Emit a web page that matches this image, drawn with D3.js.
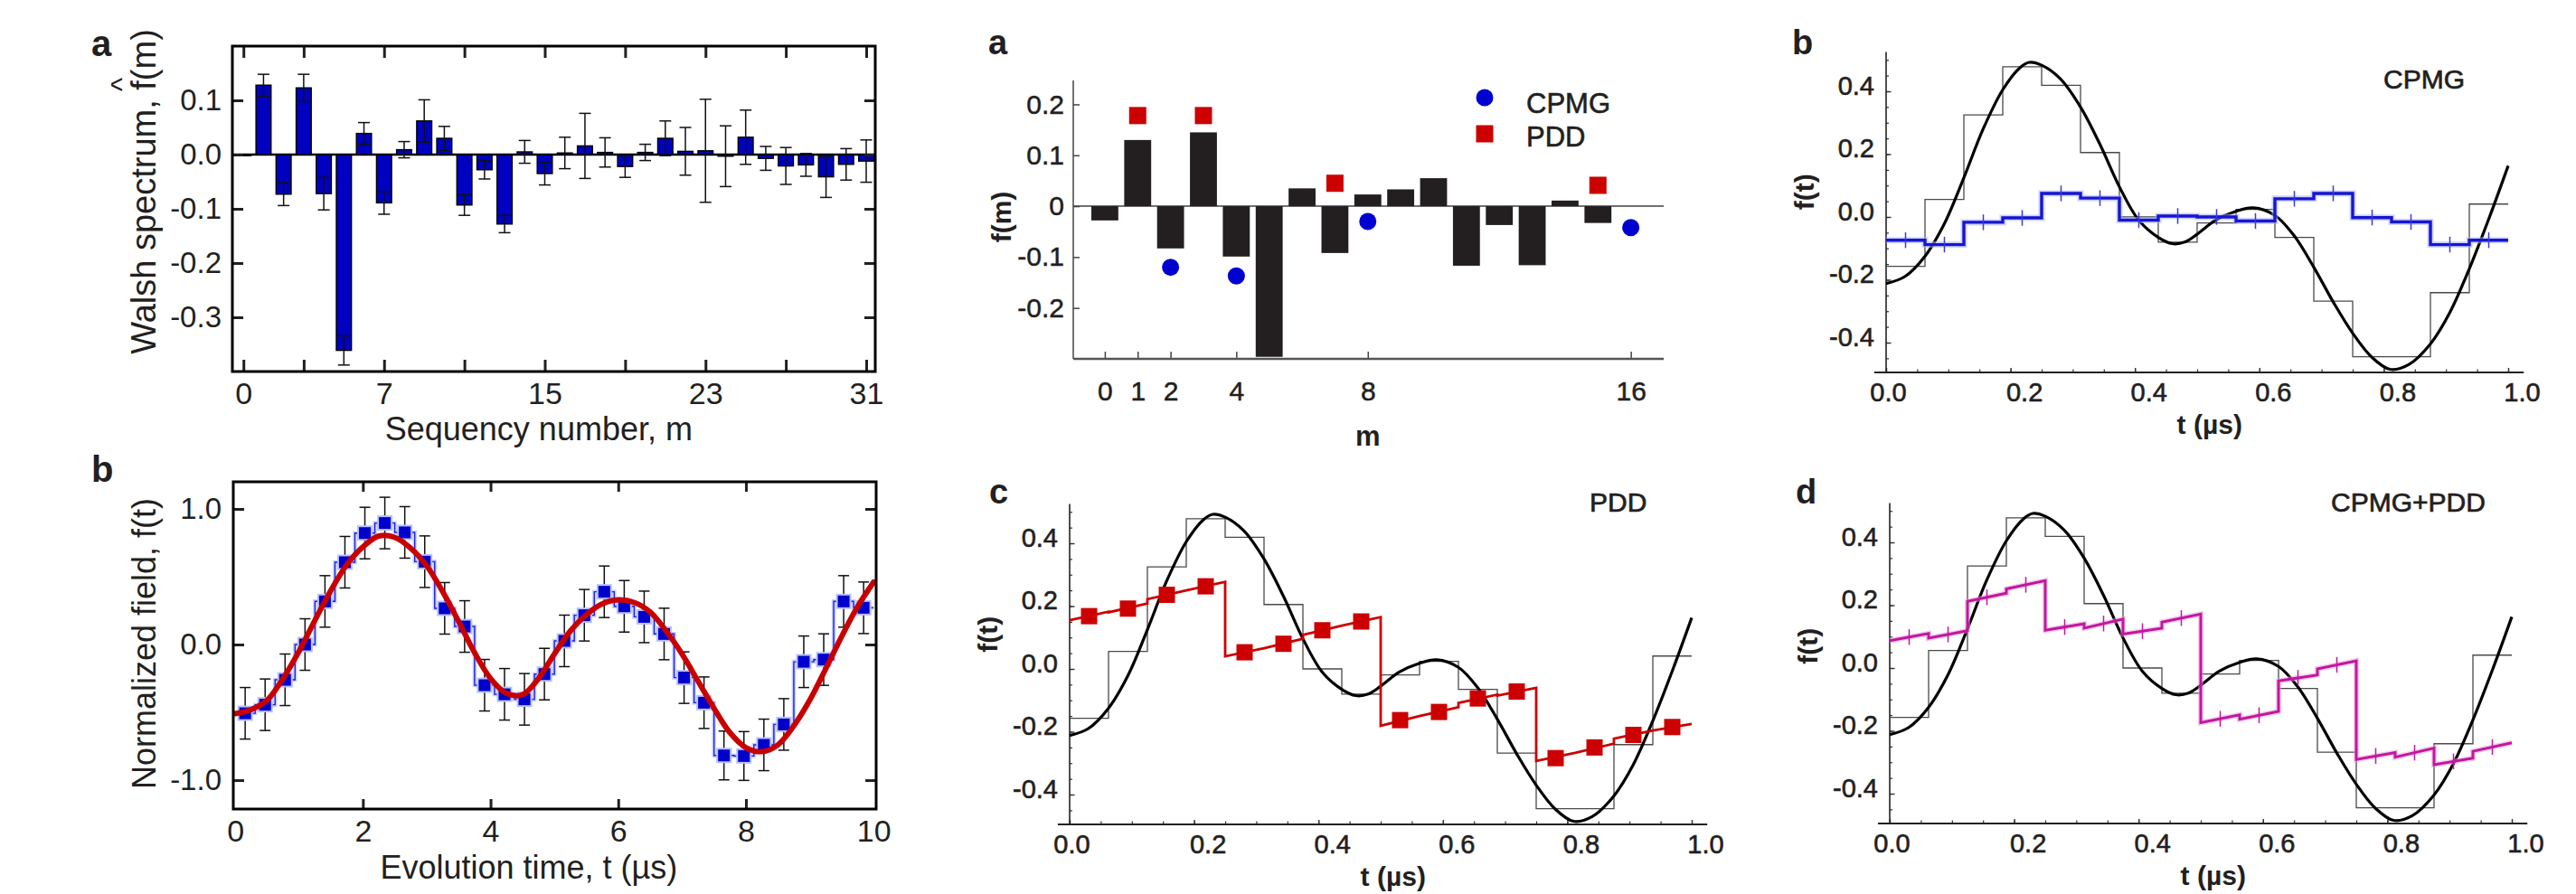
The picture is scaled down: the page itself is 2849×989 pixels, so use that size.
<!DOCTYPE html>
<html>
<head>
<meta charset="utf-8">
<script src="https://cdnjs.cloudflare.com/ajax/libs/d3/7.8.5/d3.min.js"></script>
<style>
  html, body { margin: 0; background: #fff; }
  svg { display: block; }
  text { font-family: "Liberation Sans", Arial, Helvetica, sans-serif; fill: #231f20; }
</style>
</head>
<body>
<svg id="fig" width="2849" height="989"></svg>
<script>
// ---------------- data ----------------
// Measured Walsh spectrum (sequency 0..31) with error bars
const walshM = d3.range(32);
const walshValues = [-0.002, 0.128, -0.073, 0.123, -0.072, -0.361, 0.039, -0.089, 0.009, 0.062, 0.030, -0.093,
  -0.028, -0.128, 0.005, -0.035, 0.003, 0.016, 0.004, -0.022, 0.004, 0.030, 0.006, 0.007, -0.003, 0.032,
  -0.007, -0.021, -0.019, -0.041, -0.018, -0.012];
const walshErrors = [0, 0.020, 0.021, 0.025, 0.030, 0.027, 0.020, 0.021, 0.015, 0.039, 0.022, 0.019,
  0.017, 0.016, 0.021, 0.021, 0.029, 0.060, 0.027, 0.020, 0.015, 0.032, 0.044, 0.095, 0.056, 0.050,
  0.022, 0.034, 0.021, 0.038, 0.029, 0.039];
const walshTicks = [0, 3, 7, 11, 15, 19, 23, 27, 31];
const walshTickLabels = [0, 7, 15, 23, 31];
const walshYTicks = [0.1, 0.0, -0.1, -0.2, -0.3];

// Reconstructed field: 32 samples over 10 us, with error bars, and the applied field
const fieldSpan = 10;
const fieldValues = [-0.507, -0.444, -0.260, 0.000, 0.318, 0.607, 0.822, 0.896, 0.827, 0.611, 0.267, 0.133,
  -0.300, -0.367, -0.404, -0.218, 0.027, 0.216, 0.389, 0.282, 0.204, 0.078, -0.244, -0.429,
  -0.818, -0.822, -0.740, -0.589, -0.127, -0.111, 0.318, 0.271];
const fieldErrors = [0.19, 0.19, 0.19, 0.19, 0.19, 0.19, 0.19, 0.19, 0.19, 0.19, 0.19, 0.19,
  0.19, 0.19, 0.19, 0.19, 0.19, 0.19, 0.19, 0.19, 0.19, 0.19, 0.19, 0.19,
  0.18, 0.18, 0.19, 0.19, 0.19, 0.19, 0.19, 0.19];
const appliedField = [[0, -0.51], [0.25, -0.48], [0.5, -0.41], [0.75, -0.25], [1.0, -0.05], [1.25, 0.18],
  [1.5, 0.40], [1.75, 0.59], [2.0, 0.72], [2.25, 0.80], [2.5, 0.79], [2.75, 0.71], [3.0, 0.58],
  [3.25, 0.39], [3.5, 0.17], [3.75, -0.06], [4.0, -0.25], [4.25, -0.36], [4.5, -0.37], [4.75, -0.25],
  [5.0, -0.07], [5.25, 0.10], [5.5, 0.22], [5.75, 0.30], [6.0, 0.33], [6.25, 0.31], [6.5, 0.24],
  [6.75, 0.10], [7.0, -0.07], [7.25, -0.27], [7.5, -0.47], [7.75, -0.65], [8.0, -0.76], [8.25, -0.79],
  [8.5, -0.74], [8.75, -0.60], [9.0, -0.41], [9.25, -0.18], [9.5, 0.06], [9.75, 0.28], [10, 0.46]];
const fieldXTicks = [0, 2, 4, 6, 8, 10];
const fieldYTicks = [1.0, 0.0, -1.0];

// Walsh coefficients of the test field (m = 0..15) and the ones picked by each sequence
const coefM = d3.range(16);
const coefValues = [-0.028, 0.130, -0.083, 0.145, -0.099, -0.296, 0.035, -0.092, 0.023, 0.033, 0.055,
  -0.117, -0.037, -0.116, 0.011, -0.033];
const cpmgM = [2, 4, 8, 16];
const cpmgValues = [-0.120, -0.137, -0.030, -0.042];
const pddM = [1, 3, 7, 15];
const pddValues = [0.178, 0.178, 0.045, 0.041];
const coefXTicks = [0, 1, 2, 4, 8, 16];
const coefYTicks = [0.2, 0.1, 0, -0.1, -0.2];

// Test field f(t) on 0..1 us and its 16-segment Walsh approximation
const testField = [[0, -0.212], [0.03, -0.19], [0.0625, -0.125], [0.094, -0.02], [0.125, 0.125],
  [0.156, 0.28], [0.1875, 0.405], [0.215, 0.475], [0.23, 0.492], [0.25, 0.483], [0.28, 0.44],
  [0.3125, 0.35], [0.344, 0.23], [0.375, 0.096], [0.406, -0.01], [0.4375, -0.065], [0.46, -0.085],
  [0.48, -0.08], [0.5, -0.055], [0.53, -0.01], [0.5625, 0.018], [0.59, 0.029], [0.625, 0.005],
  [0.656, -0.06], [0.6875, -0.16], [0.72, -0.275], [0.75, -0.37], [0.78, -0.445], [0.81, -0.485],
  [0.84, -0.47], [0.875, -0.404], [0.906, -0.305], [0.9375, -0.165], [0.97, 0.0], [1.0, 0.163]];
const segments = 16;
const testSteps = [-0.157, 0.056, 0.325, 0.478, 0.419, 0.205, 0.0, -0.08, -0.019, 0.024, -0.065,
  -0.268, -0.445, -0.445, -0.241, 0.041];

// CPMG reconstruction (one level per segment)
const cpmgSteps = [-0.074, -0.088, -0.017, -0.003, 0.075, 0.060, -0.010, 0.003, 0.000, -0.013, 0.058,
  0.075, -0.002, -0.016, -0.088, -0.074];
// PDD reconstruction: line vertices and the segment-centre measurements
const pddLine = [[0, 0.155], [0.0625, 0.182], [0.0625, 0.180], [0.125, 0.208], [0.125, 0.222], [0.1875, 0.250],
  [0.25, 0.277], [0.25, 0.040], [0.3125, 0.066], [0.375, 0.096], [0.375, 0.108], [0.4375, 0.138],
  [0.5, 0.165], [0.5, -0.181], [0.5625, -0.150], [0.625, -0.122], [0.625, -0.108], [0.6875, -0.082],
  [0.6875, -0.085], [0.75, -0.060], [0.75, -0.293], [0.8125, -0.267], [0.875, -0.238], [0.875, -0.222],
  [0.9375, -0.196], [1.0, -0.175]];
const pddMarks = [0.168, 0.192, 0.236, 0.263, 0.053, 0.080, 0.123, 0.151, -0.163, -0.137, -0.094,
  -0.072, -0.284, -0.250, -0.210, -0.185];
// CPMG+PDD reconstruction: line vertices
const comboLine = [[0, 0.087], [0.0625, 0.110], [0.0625, 0.095], [0.125, 0.119], [0.125, 0.212],
  [0.1875, 0.238], [0.1875, 0.252], [0.25, 0.278], [0.25, 0.120], [0.3125, 0.141], [0.3125, 0.127],
  [0.375, 0.156], [0.375, 0.108], [0.4375, 0.127], [0.4375, 0.146], [0.5, 0.172], [0.5, -0.174],
  [0.5625, -0.149], [0.5625, -0.163], [0.625, -0.138], [0.625, -0.041], [0.6875, -0.022],
  [0.6875, -0.003], [0.75, 0.023], [0.75, -0.291], [0.8125, -0.269], [0.8125, -0.284], [0.875, -0.255],
  [0.875, -0.308], [0.9375, -0.287], [0.9375, -0.265], [1.0, -0.238]];
const timeXTicks = [0, 0.2, 0.4, 0.6, 0.8, 1.0];
const timeYTicks = [0.4, 0.2, 0.0, -0.2, -0.4];
const timeErr = 0.025;

// ---------------- drawing helpers ----------------
const svg = d3.select("#fig");
const fmt1 = d => d.toFixed(1);
const INK = "#231f20";

function text(g, x, y, s, o = {}) {
  const t = g.append("text").attr("x", x).attr("y", y).text(s)
    .attr("font-size", o.size || 30)
    .attr("font-weight", o.bold ? "bold" : null)
    .attr("text-anchor", o.anchor || "start");
  if (o.heavy) t.attr("stroke", INK).attr("stroke-width", o.heavy);
  return t;
}
function vtext(g, x, y, s, o = {}) {
  return g.append("text").attr("transform", `translate(${x},${y}) rotate(-90)`)
    .attr("text-anchor", "middle").attr("font-size", o.size || 30)
    .attr("font-weight", o.bold ? "bold" : null).text(s);
}
function styleAxis(sel, size, width, color, heavy) {
  sel.select(".domain").remove();
  sel.selectAll(".tick line").attr("stroke", color || INK).attr("stroke-width", width);
  const t = sel.selectAll(".tick text").attr("font-size", size).attr("fill", INK)
    .attr("font-family", '"Liberation Sans", Arial, Helvetica, sans-serif');
  if (heavy) t.attr("stroke", INK).attr("stroke-width", heavy);
}

// ---------------- left top: Walsh spectrum ----------------
{
  const g = svg.append("g");
  const x = d3.scaleLinear().domain([-0.55, 31.45]).range([257, 968]);
  const y = d3.scaleLinear().domain([-0.4, 0.2]).range([411, 51]);
  const bw = x(0.75) - x(0);

  g.append("line").attr("x1", x.range()[0]).attr("x2", x.range()[1])
    .attr("y1", y(0)).attr("y2", y(0)).attr("stroke", "#000").attr("stroke-width", 2.5);

  g.selectAll("rect.bar").data(walshM).join("rect").attr("class", "bar")
    .attr("x", m => x(m) - bw / 2).attr("width", bw)
    .attr("y", m => y(Math.max(0, walshValues[m])))
    .attr("height", m => Math.abs(y(walshValues[m]) - y(0)))
    .attr("fill", "#0000c0").attr("stroke", "#000").attr("stroke-width", 1.4);

  const eb = g.selectAll("g.err").data(walshM.filter(m => walshErrors[m] > 0)).join("g")
    .attr("stroke", "#111").attr("stroke-width", 1.5);
  eb.append("line").attr("x1", m => x(m)).attr("x2", m => x(m))
    .attr("y1", m => y(walshValues[m] - walshErrors[m])).attr("y2", m => y(walshValues[m] + walshErrors[m]));
  [-1, 1].forEach(s => eb.append("line")
    .attr("x1", m => x(m) - 6.5).attr("x2", m => x(m) + 6.5)
    .attr("y1", m => y(walshValues[m] + s * walshErrors[m])).attr("y2", m => y(walshValues[m] + s * walshErrors[m])));

  const L = g.append("g").attr("transform", `translate(${x.range()[0]},0)`)
    .call(d3.axisLeft(y).tickValues(walshYTicks).tickFormat(fmt1).tickSize(-12).tickPadding(12));
  styleAxis(L, 33, 3);
  const R = g.append("g").attr("transform", `translate(${x.range()[1]},0)`)
    .call(d3.axisRight(y).tickValues(walshYTicks).tickFormat("").tickSize(-12));
  styleAxis(R, 33, 3);
  const B = g.append("g").attr("transform", `translate(0,${y.range()[0]})`)
    .call(d3.axisBottom(x).tickValues(walshTicks)
      .tickFormat(d => walshTickLabels.includes(d) ? d : "").tickSize(-13).tickPadding(12));
  styleAxis(B, 34, 3);
  const T = g.append("g").attr("transform", `translate(0,${y.range()[1]})`)
    .call(d3.axisTop(x).tickValues(walshTicks).tickFormat("").tickSize(-13));
  styleAxis(T, 34, 3);

  g.append("rect").attr("x", x.range()[0]).attr("y", y.range()[1])
    .attr("width", x.range()[1] - x.range()[0]).attr("height", y.range()[0] - y.range()[1])
    .attr("fill", "none").attr("stroke", "#000").attr("stroke-width", 3);

  text(g, x(14.7), 487, "Sequency number, m", { size: 36, anchor: "middle" });
  const yl = "Walsh spectrum, f(m)";
  const cy = 212;
  const lab = vtext(g, 172, cy, yl, { size: 38 });
  const fi = yl.indexOf("f(");
  const p0 = lab.node().getStartPositionOfChar(fi), p1 = lab.node().getEndPositionOfChar(fi);
  g.append("text").attr("transform", `translate(172,${cy}) rotate(-90)`)
    .attr("x", (p0.x + p1.x) / 2 + 1).attr("y", -26).attr("text-anchor", "middle")
    .attr("font-size", 33).text("^");
  text(g, 101, 62, "a", { size: 40, bold: true });
}

// ---------------- left bottom: reconstructed field vs time ----------------
{
  const g = svg.append("g");
  const x = d3.scaleLinear().domain([-0.03, 10.04]).range([258, 969]);
  const y = d3.scaleLinear().domain([-1.213, 1.2]).range([895, 533]);
  const dt = fieldSpan / fieldValues.length;

  const stepPts = fieldValues.map((v, k) => [k * dt, v]).concat([[fieldSpan, fieldValues[fieldValues.length - 1]]]);
  const stepLine = d3.line().x(d => x(d[0])).y(d => y(d[1])).curve(d3.curveStepAfter);
  g.append("path").attr("d", stepLine(stepPts)).attr("fill", "none")
    .attr("stroke", "#b4bcff").attr("stroke-width", 4.5).attr("opacity", 0.7);
  g.append("path").attr("d", stepLine(stepPts)).attr("fill", "none")
    .attr("stroke", "#1a22e0").attr("stroke-width", 1.4);

  const idx = d3.range(fieldValues.length);
  const tc = k => (k + 0.5) * dt;
  const eb = g.selectAll("g.err").data(idx).join("g").attr("stroke", "#111").attr("stroke-width", 1.5);
  eb.append("line").attr("x1", k => x(tc(k))).attr("x2", k => x(tc(k)))
    .attr("y1", k => y(fieldValues[k] - fieldErrors[k])).attr("y2", k => y(fieldValues[k] + fieldErrors[k]));
  [-1, 1].forEach(s => eb.append("line")
    .attr("x1", k => x(tc(k)) - 6).attr("x2", k => x(tc(k)) + 6)
    .attr("y1", k => y(fieldValues[k] + s * fieldErrors[k])).attr("y2", k => y(fieldValues[k] + s * fieldErrors[k])));

  const sq = 15;
  g.selectAll("rect.pt").data(idx).join("rect").attr("class", "pt")
    .attr("x", k => x(tc(k)) - sq / 2).attr("y", k => y(fieldValues[k]) - sq / 2)
    .attr("width", sq).attr("height", sq)
    .attr("fill", "#0000cc").attr("stroke", "#b8c0ff").attr("stroke-width", 2);

  g.append("path").attr("d", d3.line().x(d => x(d[0])).y(d => y(d[1])).curve(d3.curveCatmullRom)(appliedField))
    .attr("fill", "none").attr("stroke", "#c80000").attr("stroke-width", 6).attr("stroke-linecap", "round");

  const L = g.append("g").attr("transform", `translate(${x.range()[0]},0)`)
    .call(d3.axisLeft(y).tickValues(fieldYTicks).tickFormat(fmt1).tickSize(-12).tickPadding(13));
  styleAxis(L, 33, 3);
  const R = g.append("g").attr("transform", `translate(${x.range()[1]},0)`)
    .call(d3.axisRight(y).tickValues(fieldYTicks).tickFormat("").tickSize(-12));
  styleAxis(R, 33, 3);
  const B = g.append("g").attr("transform", `translate(0,${y.range()[0]})`)
    .call(d3.axisBottom(x).tickValues(fieldXTicks).tickSize(-11).tickPadding(12));
  styleAxis(B, 34, 3);
  B.selectAll(".tick").filter(d => d === 0 || d === 10).select("line").remove();
  const T = g.append("g").attr("transform", `translate(0,${y.range()[1]})`)
    .call(d3.axisTop(x).tickValues(fieldXTicks.slice(1, -1)).tickFormat("").tickSize(-11));
  styleAxis(T, 34, 3);

  g.append("rect").attr("x", x.range()[0]).attr("y", y.range()[1])
    .attr("width", x.range()[1] - x.range()[0]).attr("height", y.range()[0] - y.range()[1])
    .attr("fill", "none").attr("stroke", "#000").attr("stroke-width", 3);

  text(g, x(4.6), 972, "Evolution time, t (\u00b5s)", { size: 36, anchor: "middle" });
  vtext(g, 172, 712, "Normalized field, f(t)", { size: 36 });
  text(g, 101, 533, "b", { size: 40, bold: true });
}

// ---------------- middle top: Walsh coefficients and sequence filters ----------------
{
  const g = svg.append("g");
  const x = d3.scaleLinear().domain([-0.96, 17]).range([1187, 1840]);
  const y = d3.scaleLinear().domain([-0.3, 0.247]).range([397, 89]);
  const bw = x(0.82) - x(0);

  g.append("line").attr("x1", x.range()[0]).attr("x2", x.range()[1])
    .attr("y1", y(0)).attr("y2", y(0)).attr("stroke", "#707070").attr("stroke-width", 2);

  g.selectAll("rect.bar").data(coefM).join("rect").attr("class", "bar")
    .attr("x", m => x(m) - bw / 2).attr("width", bw)
    .attr("y", m => y(Math.max(0, coefValues[m])))
    .attr("height", m => Math.abs(y(coefValues[m]) - y(0)))
    .attr("fill", INK);

  const L = g.append("g").attr("transform", `translate(${x.range()[0]},0)`)
    .call(d3.axisLeft(y).tickValues(coefYTicks).tickFormat(d => d === 0 ? "0" : d.toFixed(1)).tickSize(-7).tickPadding(10));
  styleAxis(L, 30, 1.5, "#444", 0.5);
  const B = g.append("g").attr("transform", `translate(0,${y.range()[0]})`)
    .call(d3.axisBottom(x).tickValues(coefXTicks).tickSize(-8).tickPadding(25));
  styleAxis(B, 30, 1.5, "#444", 0.5);
  g.append("line").attr("x1", x.range()[0]).attr("x2", x.range()[0])
    .attr("y1", y.range()[1]).attr("y2", y.range()[0]).attr("stroke", "#444").attr("stroke-width", 1.5);
  g.append("line").attr("x1", x.range()[0]).attr("x2", x.range()[1])
    .attr("y1", y.range()[0]).attr("y2", y.range()[0]).attr("stroke", "#555").attr("stroke-width", 2.5);

  g.selectAll("circle.cpmg").data(cpmgM).join("circle").attr("class", "cpmg")
    .attr("cx", m => x(m)).attr("cy", (m, i) => y(cpmgValues[i])).attr("r", 9.5).attr("fill", "#0000d0");
  const s = 19;
  g.selectAll("rect.pdd").data(pddM).join("rect").attr("class", "pdd")
    .attr("x", m => x(m) - s / 2).attr("y", (m, i) => y(pddValues[i]) - s / 2)
    .attr("width", s).attr("height", s).attr("fill", "#cc0000");

  // legend
  g.append("circle").attr("cx", 1642).attr("cy", 108).attr("r", 9.5).attr("fill", "#0000d0");
  g.append("rect").attr("x", 1642 - s / 2).attr("y", 148 - s / 2).attr("width", s).attr("height", s).attr("fill", "#cc0000");
  text(g, 1688, 125, "CPMG", { size: 31, heavy: 0.6 });
  text(g, 1688, 162, "PDD", { size: 31, heavy: 0.6 });

  vtext(g, 1118, 240, "f(m)", { size: 30, bold: true });
  text(g, x(8), 493, "m", { size: 31, bold: true, anchor: "middle" });
  text(g, 1093, 60, "a", { size: 38, bold: true });
}

// ---------------- time-domain reconstructions ----------------
function timePanel(o) {
  const g = svg.append("g");
  const unit = 347.5;
  const x = d3.scaleLinear().domain([0, 1]).range([o.x0, o.x0 + 688]);
  const y = d3.scaleLinear().domain([-0.495, 0.525]).range([o.y0 + 0.495 * unit, o.y0 - 0.525 * unit]);
  const line = d3.line().x(d => x(d[0])).y(d => y(d[1]));

  // axes
  const minorX = d3.range(0, 21).map(i => i * 0.05);
  const minorY = d3.range(-9, 11).map(i => i * 0.05);
  const bx = g.append("g").attr("transform", `translate(0,${y.range()[0]})`)
    .call(d3.axisBottom(x).tickValues(minorX).tickFormat("").tickSize(-3.5));
  styleAxis(bx, 28, 1.2, "#333");
  const BX = g.append("g").attr("transform", `translate(0,${y.range()[0]})`)
    .call(d3.axisBottom(x).tickValues(timeXTicks).tickFormat(fmt1).tickSize(-5).tickPadding(11));
  styleAxis(BX, 29, 1.4, "#333", 0.6);
  BX.selectAll(".tick text").attr("dx", d => d === 0 ? 2 : 15);
  const ly = g.append("g").attr("transform", `translate(${o.x0},0)`)
    .call(d3.axisLeft(y).tickValues(minorY).tickFormat("").tickSize(-3));
  styleAxis(ly, 28, 1.2, "#333");
  const LY = g.append("g").attr("transform", `translate(${o.x0},0)`)
    .call(d3.axisLeft(y).tickValues(timeYTicks).tickFormat(fmt1).tickSize(-5.5).tickPadding(13));
  styleAxis(LY, 29, 1.4, "#333", 0.6);
  LY.selectAll(".tick text").attr("dy", "0.12em");
  g.append("line").attr("x1", x(-0.019)).attr("x2", x(1.025)).attr("y1", y.range()[0]).attr("y2", y.range()[0])
    .attr("stroke", "#222").attr("stroke-width", 2);
  g.append("line").attr("x1", o.x0).attr("x2", o.x0).attr("y1", y.range()[0]).attr("y2", y.range()[1])
    .attr("stroke", "#222").attr("stroke-width", 1.6);

  // 16-segment approximation and the field itself
  const stepPts = testSteps.map((v, k) => [k / segments, v]).concat([[1, testSteps[segments - 1]]]);
  g.append("path").attr("d", line.curve(d3.curveStepAfter)(stepPts))
    .attr("fill", "none").attr("stroke", "#4a4a4a").attr("stroke-width", 1.3);
  g.append("path").attr("d", line.curve(d3.curveCatmullRom)(testField))
    .attr("fill", "none").attr("stroke", "#000").attr("stroke-width", 3.2);
  line.curve(d3.curveLinear);

  o.draw(g, x, y, line);

  text(g, o.labelX, o.labelY, o.panel, { size: 38, bold: true });
  text(g, o.nameX, o.nameY, o.name, { size: 30, heavy: 0.7 });
  vtext(g, o.x0 - 80, y(o.fLabelAt), "f(t)", { size: 30, bold: true });
  text(g, x(0.52), y.range()[0] + 68, "t (\u00b5s)", { size: 30, bold: true, anchor: "middle" });
}

function errTicks(g, x, y, pts, color) {
  g.selectAll(null).data(pts).join("line")
    .attr("x1", d => x(d[0])).attr("x2", d => x(d[0]))
    .attr("y1", d => y(d[1] - timeErr)).attr("y2", d => y(d[1] + timeErr))
    .attr("stroke", color).attr("stroke-width", 1.5);
}
const centres = d3.range(segments).map(k => (k + 0.5) / segments);

// CPMG
timePanel({
  x0: 2086, y0: 240, panel: "b", labelX: 1982, labelY: 60, name: "CPMG", nameX: 2636, nameY: 98, fLabelAt: 0.08,
  draw(g, x, y, line) {
    const pts = cpmgSteps.map((v, k) => [k / segments, v]).concat([[1, cpmgSteps[segments - 1]]]);
    const step = d3.line().x(d => x(d[0])).y(d => y(d[1])).curve(d3.curveStepAfter);
    g.append("path").attr("d", step(pts)).attr("fill", "none").attr("stroke", "#a8b0ff")
      .attr("stroke-width", 7).attr("opacity", 0.55);
    g.append("path").attr("d", step(pts)).attr("fill", "none").attr("stroke", "#1616d0").attr("stroke-width", 3.4);
    errTicks(g, x, y, centres.map((t, k) => [t, cpmgSteps[k]]), "#3a3ad8");
  }
});

// PDD
timePanel({
  x0: 1183, y0: 740, panel: "c", labelX: 1094, labelY: 557, name: "PDD", nameX: 1758, nameY: 566, fLabelAt: 0.11,
  draw(g, x, y, line) {
    g.append("path").attr("d", line(pddLine)).attr("fill", "none").attr("stroke", "#cc0000").attr("stroke-width", 2.8);
    const s = 18;
    g.selectAll("rect.pdd").data(centres).join("rect").attr("class", "pdd")
      .attr("x", t => x(t) - s / 2).attr("y", (t, k) => y(pddMarks[k]) - s / 2)
      .attr("width", s).attr("height", s).attr("fill", "#cc0000");
  }
});

// CPMG+PDD
timePanel({
  x0: 2090, y0: 739, panel: "d", labelX: 1986, labelY: 557, name: "CPMG+PDD", nameX: 2578, nameY: 566, fLabelAt: 0.07,
  draw(g, x, y, line) {
    g.append("path").attr("d", line(comboLine)).attr("fill", "none").attr("stroke", "#e8a0dc")
      .attr("stroke-width", 6).attr("opacity", 0.5);
    g.append("path").attr("d", line(comboLine)).attr("fill", "none").attr("stroke", "#c4169e").attr("stroke-width", 3);
    // error marks sit at the middle of each sloped segment
    const mids = [];
    for (let i = 0; i + 1 < comboLine.length; i++) {
      const a = comboLine[i], b = comboLine[i + 1];
      if (b[0] > a[0]) mids.push([(a[0] + b[0]) / 2, (a[1] + b[1]) / 2]);
    }
    errTicks(g, x, y, mids, "#c4169e");
  }
});
</script>
</body>
</html>
